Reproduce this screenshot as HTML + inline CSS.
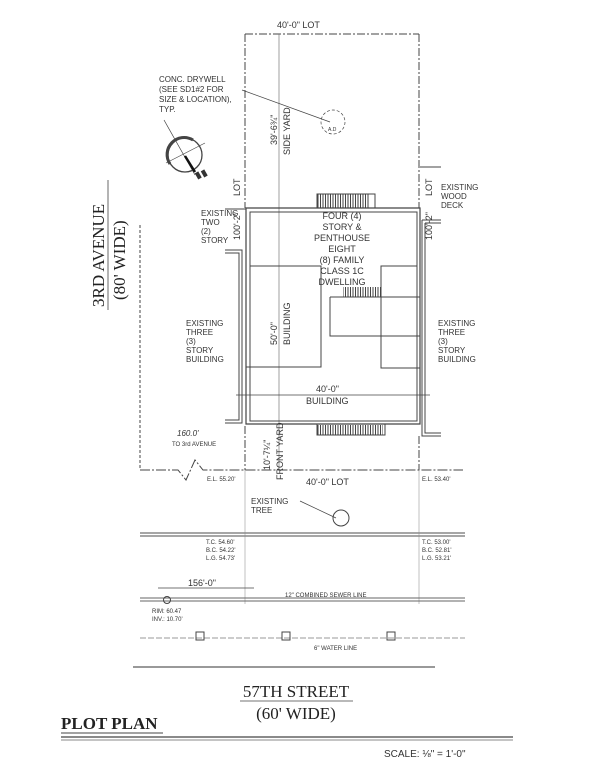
<!DOCTYPE html>
<html><head><meta charset="utf-8"><style>
html,body{margin:0;padding:0;background:#fff;width:600px;height:776px;overflow:hidden}
svg{display:block}
text{font-family:"Liberation Sans",sans-serif;fill:#333}
.s{font-family:"Liberation Serif",serif;fill:#222}
</style></head><body>
<svg width="600" height="776" viewBox="0 0 600 776" xmlns="http://www.w3.org/2000/svg" font-size="8">
<defs><pattern id="h" width="2.5" height="4" patternUnits="userSpaceOnUse"><rect width="1" height="4" fill="#444"/></pattern></defs>
<g stroke="#444" stroke-width="1" fill="none">
<path d="M245 34 H419" stroke-dasharray="8,2,2,2"/>
<path d="M245 34 V208 M419 34 V208" stroke-dasharray="8,2,2,2"/>
<path d="M245 426 V470 M419 436 V470" stroke-dasharray="8,2,2,2"/>
<path d="M245 470 V604 M419 470 V604" stroke="#999" stroke-width="0.6"/>
<path d="M140 470 H178 L186 480 L195 460 L203 470 H463" stroke-dasharray="10,2,2,2"/>
<path d="M140 225 V470" stroke-dasharray="3,2"/>
<path d="M279 34 V470" stroke="#777" stroke-width="0.7"/>
<path d="M246 208 H420 V424 H246 Z" stroke-width="1.2"/>
<path d="M250 212 H417 V421 H250 Z"/>
<path d="M250 266 H321 V367 H246"/>
<path d="M417 266 H381 V368 H420"/>
<path d="M330 297 H420 M330 297 V336 H420"/>
<path d="M236 395 H430" stroke-width="0.7"/>
<path d="M225 209 H246 M225 250 H242 V423 H225 M225 253 H239 V420 H225"/>
<path d="M420 167 H441 M422 220 H441 M425 223 H441 M422 220 V436 H441 M425 223 V433 H441"/>
<rect x="317" y="194" width="58" height="14"/>
<rect x="317" y="424" width="68" height="11"/>
<circle cx="333" cy="122" r="12" stroke-dasharray="3,2" stroke-width="0.7"/>
<path d="M242 90 L330 122" stroke-width="0.7"/>
<circle cx="185" cy="155" r="17" stroke-width="1.3"/>
<path d="M170 164 A17 17 0 0 1 193 140" stroke-width="3"/>
<path d="M164 120 L195 175 M166 163 L205 143" stroke-width="0.7"/>
<path d="M185 156 L195 172" stroke-width="2.5" stroke="#111"/>
<circle cx="341" cy="518" r="8"/>
<path d="M300 501 L336 518" stroke-width="0.7"/>
<path d="M140 533 H465 M140 536 H465" stroke="#888" stroke-width="1.5"/>
<path d="M140 598 H465 M140 601 H465" stroke="#666"/>
<path d="M158 588 H254" stroke-width="0.7"/>
<circle cx="167" cy="600" r="3.5"/>
<path d="M140 638 H465" stroke="#999" stroke-dasharray="6,2"/>
<rect x="196" y="632" width="8" height="8"/><rect x="282" y="632" width="8" height="8"/><rect x="387" y="632" width="8" height="8"/>
<path d="M133 667 H435" stroke="#999" stroke-width="2"/>
<path d="M240 701 H353" stroke-width="0.8"/>
<path d="M61 733 H163" stroke-width="1"/>
<path d="M61 737 H513" stroke-width="1.3"/>
<path d="M61 740 H513" stroke="#888"/>
<path d="M108 180 V310" stroke-width="0.8"/>
</g>
<g fill="#333" stroke="none">
<rect x="317" y="194" width="53" height="14" fill="url(#h)"/>
<rect x="317" y="425" width="66" height="10" fill="url(#h)"/>
<rect x="343" y="287" width="38" height="10" fill="url(#h)"/>
<rect x="196" y="172" width="4" height="7" transform="rotate(-30 198 175)"/>
<rect x="202" y="170" width="4" height="7" transform="rotate(-30 204 173)"/>
</g>
<text x="277" y="28" font-size="9">40'-0" LOT</text>
<text x="159" y="82">CONC. DRYWELL</text>
<text x="159" y="92">(SEE SD1#2 FOR</text>
<text x="159" y="102">SIZE &amp; LOCATION),</text>
<text x="159" y="112">TYP.</text>
<text x="328" y="131" font-size="5">A.D</text>
<text transform="translate(277,145) rotate(-90)" font-size="9">39'-6¾"</text>
<text transform="translate(290,155) rotate(-90)" font-size="9">SIDE YARD</text>
<text transform="translate(240,196) rotate(-90)" font-size="9">LOT</text>
<text transform="translate(240,240) rotate(-90)" font-size="9">100'-2"</text>
<text transform="translate(432,196) rotate(-90)" font-size="9">LOT</text>
<text transform="translate(432,240) rotate(-90)" font-size="9">100'-2"</text>
<text x="441" y="190">EXISTING</text><text x="441" y="199">WOOD</text><text x="441" y="208">DECK</text>
<text x="201" y="216">EXISTING</text><text x="201" y="225">TWO</text><text x="201" y="234">(2)</text><text x="201" y="243">STORY</text>
<g font-size="9"><text x="342" y="219" text-anchor="middle">FOUR (4)</text><text x="342" y="230" text-anchor="middle">STORY &amp;</text><text x="342" y="241" text-anchor="middle">PENTHOUSE</text><text x="342" y="252" text-anchor="middle">EIGHT</text><text x="342" y="263" text-anchor="middle">(8) FAMILY</text><text x="342" y="274" text-anchor="middle">CLASS 1C</text><text x="342" y="285" text-anchor="middle">DWELLING</text></g>
<text x="186" y="326">EXISTING</text><text x="186" y="335">THREE</text><text x="186" y="344">(3)</text><text x="186" y="353">STORY</text><text x="186" y="362">BUILDING</text>
<text x="438" y="326">EXISTING</text><text x="438" y="335">THREE</text><text x="438" y="344">(3)</text><text x="438" y="353">STORY</text><text x="438" y="362">BUILDING</text>
<text transform="translate(277,345) rotate(-90)" font-size="9">50'-0"</text>
<text transform="translate(290,345) rotate(-90)" font-size="9">BUILDING</text>
<text x="316" y="392" font-size="9">40'-0"</text>
<text x="306" y="404" font-size="9">BUILDING</text>
<text x="177" y="436" font-size="8" font-style="italic">160.0'</text>
<text x="172" y="446" font-size="6">TO 3rd AVENUE</text>
<text transform="translate(270,470) rotate(-90)" font-size="9">10'-7¼"</text>
<text transform="translate(283,480) rotate(-90)" font-size="9">FRONT YARD</text>
<text x="207" y="481" font-size="6">E.L. 55.20'</text>
<text x="422" y="481" font-size="6">E.L. 53.40'</text>
<text x="306" y="485" font-size="9">40'-0" LOT</text>
<text x="251" y="504">EXISTING</text><text x="251" y="513">TREE</text>
<text x="206" y="544" font-size="6">T.C. 54.60'</text><text x="206" y="552" font-size="6">B.C. 54.22'</text><text x="206" y="560" font-size="6">L.G. 54.73'</text>
<text x="422" y="544" font-size="6">T.C. 53.00'</text><text x="422" y="552" font-size="6">B.C. 52.81'</text><text x="422" y="560" font-size="6">L.G. 53.21'</text>
<text x="188" y="586" font-size="9">156'-0"</text>
<text x="285" y="597" font-size="6">12" COMBINED SEWER LINE</text>
<text x="152" y="613" font-size="6">RIM: 60.47</text><text x="152" y="621" font-size="6">INV.: 10.70'</text>
<text x="314" y="650" font-size="6">6" WATER LINE</text>
<text class="s" transform="translate(104,307) rotate(-90)" font-size="17">3RD AVENUE</text>
<text class="s" transform="translate(125,300) rotate(-90)" font-size="17">(80' WIDE)</text>
<text class="s" x="296" y="697" font-size="17" text-anchor="middle">57TH STREET</text>
<text class="s" x="296" y="719" font-size="17" text-anchor="middle">(60' WIDE)</text>
<text class="s" x="61" y="729" font-size="17" font-weight="bold" fill="#111">PLOT PLAN</text>
<text x="384" y="757" font-size="10">SCALE: ⅛" = 1'-0"</text>
</svg>
</body></html>
